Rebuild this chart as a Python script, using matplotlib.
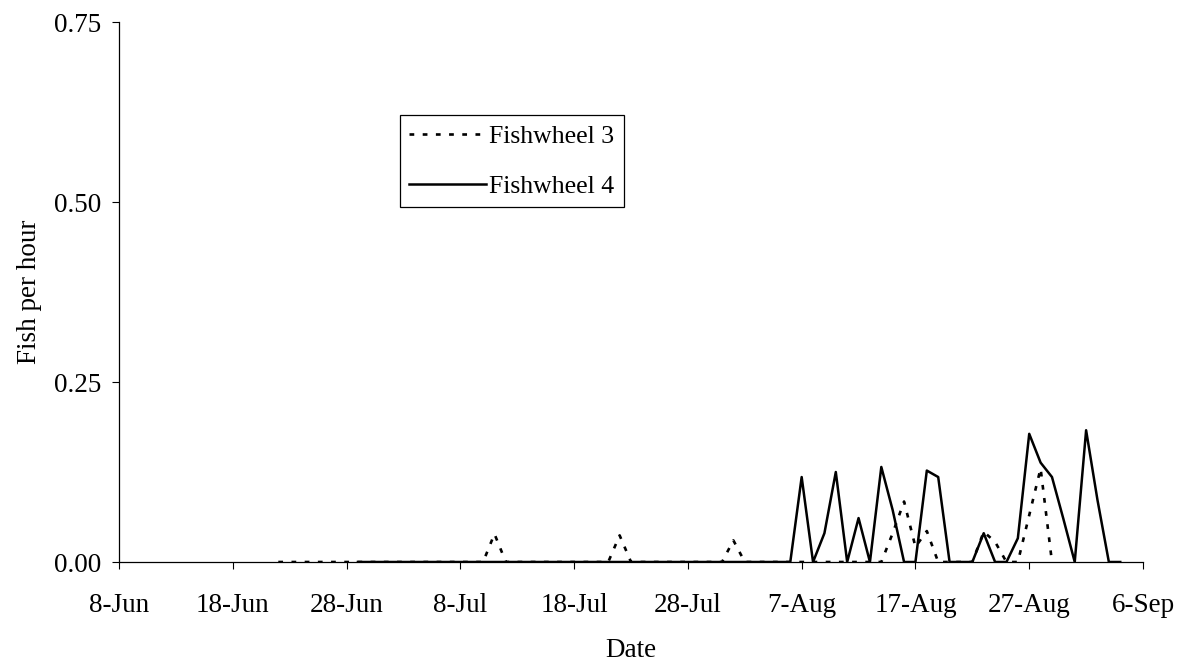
import matplotlib.pyplot as plt
import numpy as np

plt.rcParams['font.family'] = ['Liberation Serif', 'DejaVu Serif']

# days counted from 8-Jun
tick_days = [0, 10, 20, 30, 40, 50, 60, 70, 80, 90]
tick_labels = ["8-Jun", "18-Jun", "28-Jun", "8-Jul", "18-Jul", "28-Jul",
               "7-Aug", "17-Aug", "27-Aug", "6-Sep"]

# Fishwheel 3, days 14..82
fw3_days = list(range(14, 83))
fw3 = ([0] * 18 +                      # 14-31
       [0, 0.039, 0] +                  # 32-34
       [0] * 8 +                        # 35-42
       [0, 0.037, 0] +                  # 43-45
       [0] * 7 +                        # 46-52
       [0, 0.030, 0] +                  # 53-55
       [0] * 11 +                       # 56-66
       [0, 0.040, 0.084, 0.021, 0.043, 0,   # 67-72
        0, 0, 0, 0.042, 0.028, 0, 0, 0.065, 0.130, 0])  # 73-82

# Fishwheel 4, days 21..88
fw4_days = list(range(21, 89))
fw4 = ([0] * 39 +                       # 21-59
       [0.118, 0, 0.040, 0.125, 0, 0.061, 0, 0.132, 0.072, 0,   # 60-69
        0, 0.127, 0.118, 0, 0, 0, 0.040, 0, 0, 0.033,          # 70-79
        0.178, 0.138, 0.118, 0.060, 0, 0.183, 0.086, 0, 0])     # 80-88

fig = plt.figure(figsize=(11.81, 6.72), dpi=100)
ax = fig.add_axes([119 / 1181, 1 - 562 / 672, 1024 / 1181, 540 / 672])

ax.plot(fw3_days, fw3, color='black', lw=1.9, linestyle=(0, (1.8, 3.2)),
        label="Fishwheel 3")
ax.plot(fw4_days, fw4, color='black', lw=1.8, label="Fishwheel 4")

ax.set_xlim(0, 90)
ax.set_ylim(0, 0.75)
ax.set_xticks(tick_days)
ax.set_xticklabels(tick_labels)
ax.set_yticks([0, 0.25, 0.5, 0.75])
ax.set_yticklabels(["0.00", "0.25", "0.50", "0.75"])
ax.tick_params(labelsize=19.5, direction='out', length=5, width=0.8, pad=8)
ax.tick_params(axis='x', pad=17)

for s in ['top', 'right']:
    ax.spines[s].set_visible(False)
for s in ['left', 'bottom']:
    ax.spines[s].set_linewidth(0.9)

ax.set_ylabel("Fish per hour", fontsize=19.5, labelpad=8)
ax.set_xlabel("Date", fontsize=19.5, labelpad=15)

leg = ax.legend(loc='upper left', bbox_to_anchor=(0.274, 0.828), borderaxespad=0,
                fancybox=False, edgecolor='black', framealpha=1, fontsize=18.5,
                handlelength=3.0, handletextpad=0.1, borderpad=0.38,
                labelspacing=1.05)
leg.get_frame().set_linewidth(0.9)

fig.savefig("out.png", dpi=100)
